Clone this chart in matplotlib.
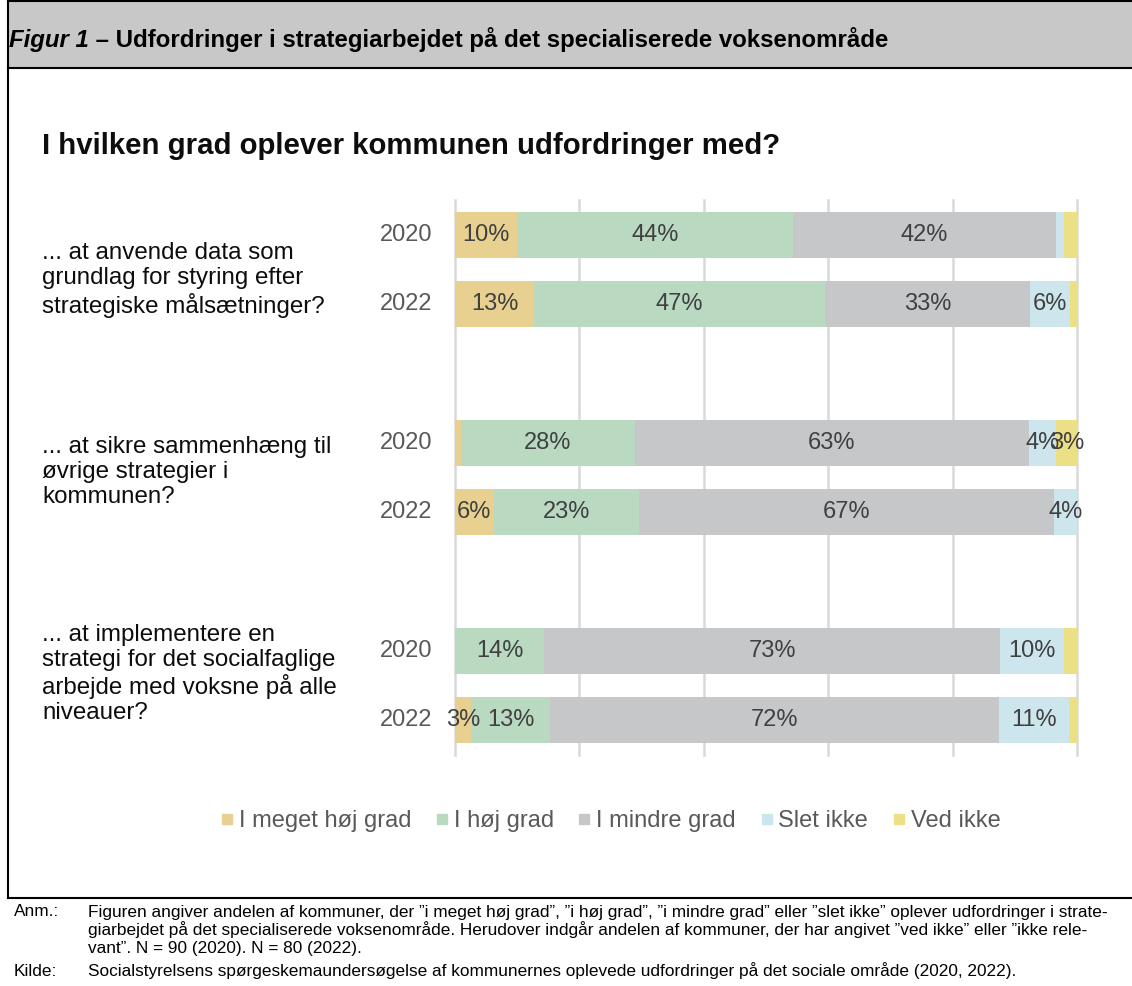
import matplotlib
matplotlib.use("Agg")
import matplotlib.pyplot as plt
from matplotlib.lines import Line2D
from matplotlib.patches import Rectangle
import numpy as np

plt.rcParams['font.family'] = ['Liberation Sans', 'DejaVu Sans']

W, H = 1132, 986
DPI = 100

questions = [
    "... at anvende data som\ngrundlag for styring efter\nstrategiske målsætninger?",
    "... at sikre sammenhæng til\nøvrige strategier i\nkommunen?",
    "... at implementere en\nstrategi for det socialfaglige\narbejde med voksne på alle\nniveauer?",
]
years = ["2020", "2022"]
series = ["I meget høj grad", "I høj grad", "I mindre grad", "Slet ikke", "Ved ikke"]
colors = ["#E8D190", "#B9D9C1", "#C6C7C9", "#CDE6EE", "#EBE085"]

# rows: (q1 2020, q1 2022, q2 2020, q2 2022, q3 2020, q3 2022)
meget_hoej = [10.0, 12.7, 1.0, 6.2, 0.0, 2.6]
hoej = [44.4, 46.8, 27.9, 23.4, 14.3, 12.7]
mindre = [42.2, 33.0, 63.4, 66.7, 73.4, 72.1]
slet_ikke = [1.3, 6.3, 4.4, 3.7, 10.2, 11.3]
ved_ikke = [2.1, 1.2, 3.3, 0.0, 2.1, 1.3]
values = [meget_hoej, hoej, mindre, slet_ikke, ved_ikke]

positions = [0, 1, 3, 4, 6, 7]
grid_ticks = [0, 20, 40, 60, 80, 100]

fig = plt.figure(figsize=(W / DPI, H / DPI), dpi=DPI)

def fx(px):
    return px / W

def fy(py):
    return 1 - py / H

# Frame and header
fig.patches.append(Rectangle((fx(9), fy(68)), fx(W - 9), fy(2) - fy(68),
                             transform=fig.transFigure, facecolor="#C8C8C8",
                             edgecolor="none", zorder=0))
lw = 1.5
fig.add_artist(Line2D([fx(8), 1], [fy(1), fy(1)], color="black", lw=lw))
fig.add_artist(Line2D([fx(8), 1], [fy(68), fy(68)], color="black", lw=lw))
fig.add_artist(Line2D([fx(8), fx(8)], [fy(0), fy(898)], color="black", lw=lw))
fig.add_artist(Line2D([fx(8), 1], [fy(898), fy(898)], color="black", lw=lw))

hfs = 17.3
t1 = fig.text(fx(9), fy(40), "Figur 1", fontsize=hfs, fontweight="bold",
              fontstyle="italic", va="center", ha="left")
fig.canvas.draw()
r = fig.canvas.get_renderer()
bb = t1.get_window_extent(r)
fig.text(bb.x1 / W, fy(40), " – Udfordringer i strategiarbejdet på det specialiserede voksenområde",
         fontsize=hfs, fontweight="bold", va="center", ha="left")

# Chart title
fig.text(fx(42), fy(146), "I hvilken grad oplever kommunen udfordringer med?",
         fontsize=21.2, fontweight="bold", va="center", ha="left", color="#0D0D0D")

# Axes
ax = fig.add_axes([fx(455), fy(755), fx(1077) - fx(455), fy(200) - fy(755)])
for g in grid_ticks:
    ax.axvline(g, color="#D9D9D9", lw=1.8, zorder=0, clip_on=False)

left = np.zeros(len(positions))
for s, vals, c in zip(series, values, colors):
    vals = np.array(vals)
    ax.barh(positions, vals, left=left, height=0.667, color=c, label=s, zorder=2)
    for p, l, v in zip(positions, left, vals):
        if round(v) >= 3:
            ax.text(l + v / 2, p, f"{v:.0f}%", ha="center", va="center",
                    fontsize=17, color="#404040", zorder=3)
    left += vals

ax.set_xlim(0, 100)
ax.set_ylim(7.5, -0.5)
ax.tick_params(left=False, bottom=False, labelbottom=False, labelleft=False)
for sp in ax.spines.values():
    sp.set_visible(False)
ax.set_facecolor("none")

# Year labels
ytr = ax.get_yaxis_transform()
for i, p in enumerate(positions):
    ax.text((432 - 455) / 622, p, years[i % 2], transform=ytr, ha="right",
            va="center", fontsize=17, color="#595959")

# Question labels
q_centers = [280, 472, 674]
for q, yc in zip(questions, q_centers):
    fig.text(fx(42), fy(yc), q, fontsize=17.4, ha="left", va="center",
             color="#0D0D0D", linespacing=1.17)

# Legend
handles = [Line2D([], [], marker="s", ls="none", markersize=7.5,
                  markerfacecolor=c, markeredgecolor=c) for c in colors]
fig.legend(handles, series, loc="center", bbox_to_anchor=(fx(610), fy(821)),
           ncol=5, frameon=False, fontsize=17, handlelength=0.6,
           handletextpad=0.2, columnspacing=1.0, labelcolor="#595959")

# Footnotes
fs = 12.4
fig.text(fx(14), fy(912), "Anm.:", fontsize=fs, va="center", ha="left")
notes = [
    "Figuren angiver andelen af kommuner, der ”i meget høj grad”, ”i høj grad”, ”i mindre grad” eller ”slet ikke” oplever udfordringer i strate-",
    "giarbejdet på det specialiserede voksenområde. Herudover indgår andelen af kommuner, der har angivet ”ved ikke” eller ”ikke rele-",
    "vant”. N = 90 (2020). N = 80 (2022).",
]
for line, yy in zip(notes, [912, 930, 948]):
    fig.text(fx(88), fy(yy), line, fontsize=fs, va="center", ha="left")
fig.text(fx(14), fy(971), "Kilde:", fontsize=fs, va="center", ha="left")
fig.text(fx(88), fy(971),
         "Socialstyrelsens spørgeskemaundersøgelse af kommunernes oplevede udfordringer på det sociale område (2020, 2022).",
         fontsize=fs, va="center", ha="left")

fig.savefig("out.png", dpi=DPI)
